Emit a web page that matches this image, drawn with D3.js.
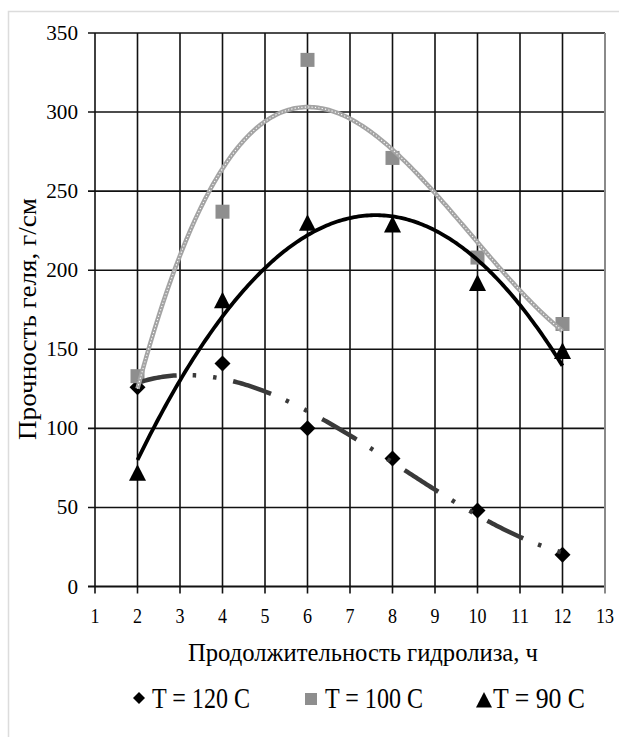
<!DOCTYPE html>
<html>
<head>
<meta charset="utf-8">
<script src="https://cdn.jsdelivr.net/npm/d3@7"></script>
<style>
  html, body { margin: 0; padding: 0; background: #fff; }
  svg { display: block; }
</style>
</head>
<body>
<svg id="chart" width="619" height="737"></svg>
<script>
// Gel strength (g/cm) versus hydrolysis time (h) at three temperatures
const hours = [2, 4, 6, 8, 10, 12];
const t120 = [126, 141, 100, 81, 48, 20];
const t100 = [133, 237, 333, 271, 208, 166];
const t90  = [72, 181, 230, 229, 192, 149];
const seriesLabels = ["T = 120 C", "T = 100 C", "T = 90 C"];
const trendDegree = [3, 3, 2];
const xTicks = d3.range(1, 14);
const yTicks = d3.range(0, 351, 50);
const xTitle = "Продолжительность гидролиза, ч";
const yTitle = "Прочность геля, г/см";

const svg = d3.select("#chart");
const x = d3.scaleLinear().domain([1, 13]).range([95, 605]);
const y = d3.scaleLinear().domain([0, 350]).range([586.5, 33]);

// serif label helper
const label = (sel) => sel.style("font-family", "'Liberation Serif'").attr("fill", "#000");

// outer chart frame
svg.append("rect").attr("x", 8.5).attr("y", 11.5).attr("width", 700).attr("height", 800)
  .attr("fill", "none").attr("stroke", "#dcdcdc").attr("stroke-width", 1.5);

// least-squares polynomial trend
function polyfit(xs, ys, deg) {
  const n = deg + 1;
  const A = Array.from({length: n}, () => new Array(n + 1).fill(0));
  xs.forEach((xv, k) => {
    for (let i = 0; i < n; i++) {
      for (let j = 0; j < n; j++) A[i][j] += Math.pow(xv, i + j);
      A[i][n] += ys[k] * Math.pow(xv, i);
    }
  });
  for (let c = 0; c < n; c++) {
    let p = c;
    for (let r = c + 1; r < n; r++) if (Math.abs(A[r][c]) > Math.abs(A[p][c])) p = r;
    [A[c], A[p]] = [A[p], A[c]];
    for (let r = 0; r < n; r++) {
      if (r === c) continue;
      const f = A[r][c] / A[c][c];
      for (let k = c; k <= n; k++) A[r][k] -= f * A[c][k];
    }
  }
  const coef = A.map((row, i) => row[n] / row[i]);
  return xv => coef.reduce((s, cf, i) => s + cf * Math.pow(xv, i), 0);
}

// grid
const grid = svg.append("g");
yTicks.forEach(v => {
  grid.append("line").attr("x1", 88).attr("x2", x(13)).attr("y1", y(v)).attr("y2", y(v))
    .attr("stroke", "#111").attr("stroke-width", v === 0 ? 2 : 1.6);
});
xTicks.forEach(v => {
  grid.append("line").attr("x1", x(v)).attr("x2", x(v)).attr("y1", y(350)).attr("y2", y(0) + 7)
    .attr("stroke", v === 13 ? "#8a8a8a" : "#111").attr("stroke-width", v === 13 ? 2 : 1.6);
});

// tick labels
svg.append("g").selectAll("text").data(yTicks).join("text")
  .call(label)
  .attr("x", 78).attr("y", d => y(d) + 7)
  .attr("text-anchor", "end").attr("font-size", 20)
  .attr("textLength", d => String(d).length * 10.6).attr("lengthAdjust", "spacingAndGlyphs")
  .text(d => d);
svg.append("g").selectAll("text").data(xTicks).join("text")
  .call(label)
  .attr("x", d => x(d)).attr("y", 623)
  .attr("text-anchor", "middle").attr("font-size", 21)
  .attr("textLength", d => String(d).length * 9).attr("lengthAdjust", "spacingAndGlyphs")
  .text(d => d);

// axis titles
svg.append("text").call(label).attr("x", 363).attr("y", 661).attr("text-anchor", "middle")
  .attr("font-size", 25).attr("textLength", 350).attr("lengthAdjust", "spacingAndGlyphs")
  .text(xTitle);
svg.append("text").call(label).attr("transform", "translate(36,319) rotate(-90)").attr("text-anchor", "middle")
  .attr("font-size", 25).attr("textLength", 242).attr("lengthAdjust", "spacingAndGlyphs")
  .text(yTitle);

// marker shapes
const diamond = s => `M0,${-s}L${s},0L0,${s}L${-s},0Z`;
const square = s => `M${-s},${-s}H${s}V${s}H${-s}Z`;
const triangle = s => `M0,${-s}L${s},${s * 0.95}L${-s},${s * 0.95}Z`;
const series = [
  {values: t120, shape: diamond(8), fill: "#000"},
  {values: t100, shape: square(7), fill: "#8e8e8e"},
  {values: t90,  shape: triangle(8.5), fill: "#000"}
];
series.forEach(s => {
  svg.append("g").selectAll("path").data(hours).join("path")
    .attr("transform", (d, i) => `translate(${x(d)},${y(s.values[i])})`)
    .attr("d", s.shape).attr("fill", s.fill);
});

// polynomial trendlines
const xs = d3.range(2, 12.001, 0.05);
const line = f => d3.line().x(d => x(d)).y(d => y(f(d)))(xs);
const f120 = polyfit(hours, t120, trendDegree[0]);
const f100 = polyfit(hours, t100, trendDegree[1]);
const f90 = polyfit(hours, t90, trendDegree[2]);

svg.append("path").attr("d", line(f120)).attr("fill", "none")
  .attr("stroke", "#3a3a3a").attr("stroke-width", 4.5)
  .attr("stroke-dasharray", "40,16,3.5,17,3.5,17");

svg.append("path").attr("d", line(f100)).attr("fill", "none")
  .attr("stroke", "#a4a4a4").attr("stroke-width", 4.5);
svg.append("path").attr("d", line(f100)).attr("fill", "none")
  .attr("stroke", "#ffffff").attr("stroke-width", 1.1).attr("stroke-dasharray", "1.2,2.2");

svg.append("path").attr("d", line(f90)).attr("fill", "none")
  .attr("stroke", "#000").attr("stroke-width", 3.8);

// legend
const legend = [
  {label: seriesLabels[0], shape: diamond(6), fill: "#000", mx: 139, my: 698, tx: 152, tw: 98},
  {label: seriesLabels[1], shape: square(6), fill: "#8e8e8e", mx: 311, my: 699, tx: 325, tw: 98},
  {label: seriesLabels[2], shape: triangle(8), fill: "#000", mx: 484, my: 700, tx: 493, tw: 92}
];
const lg = svg.append("g");
legend.forEach(l => {
  lg.append("path").attr("transform", `translate(${l.mx},${l.my})`).attr("d", l.shape).attr("fill", l.fill);
  lg.append("text").call(label).attr("x", l.tx).attr("y", 708).attr("font-size", 29)
    .attr("textLength", l.tw).attr("lengthAdjust", "spacingAndGlyphs").text(l.label);
});
</script>
</body>
</html>
